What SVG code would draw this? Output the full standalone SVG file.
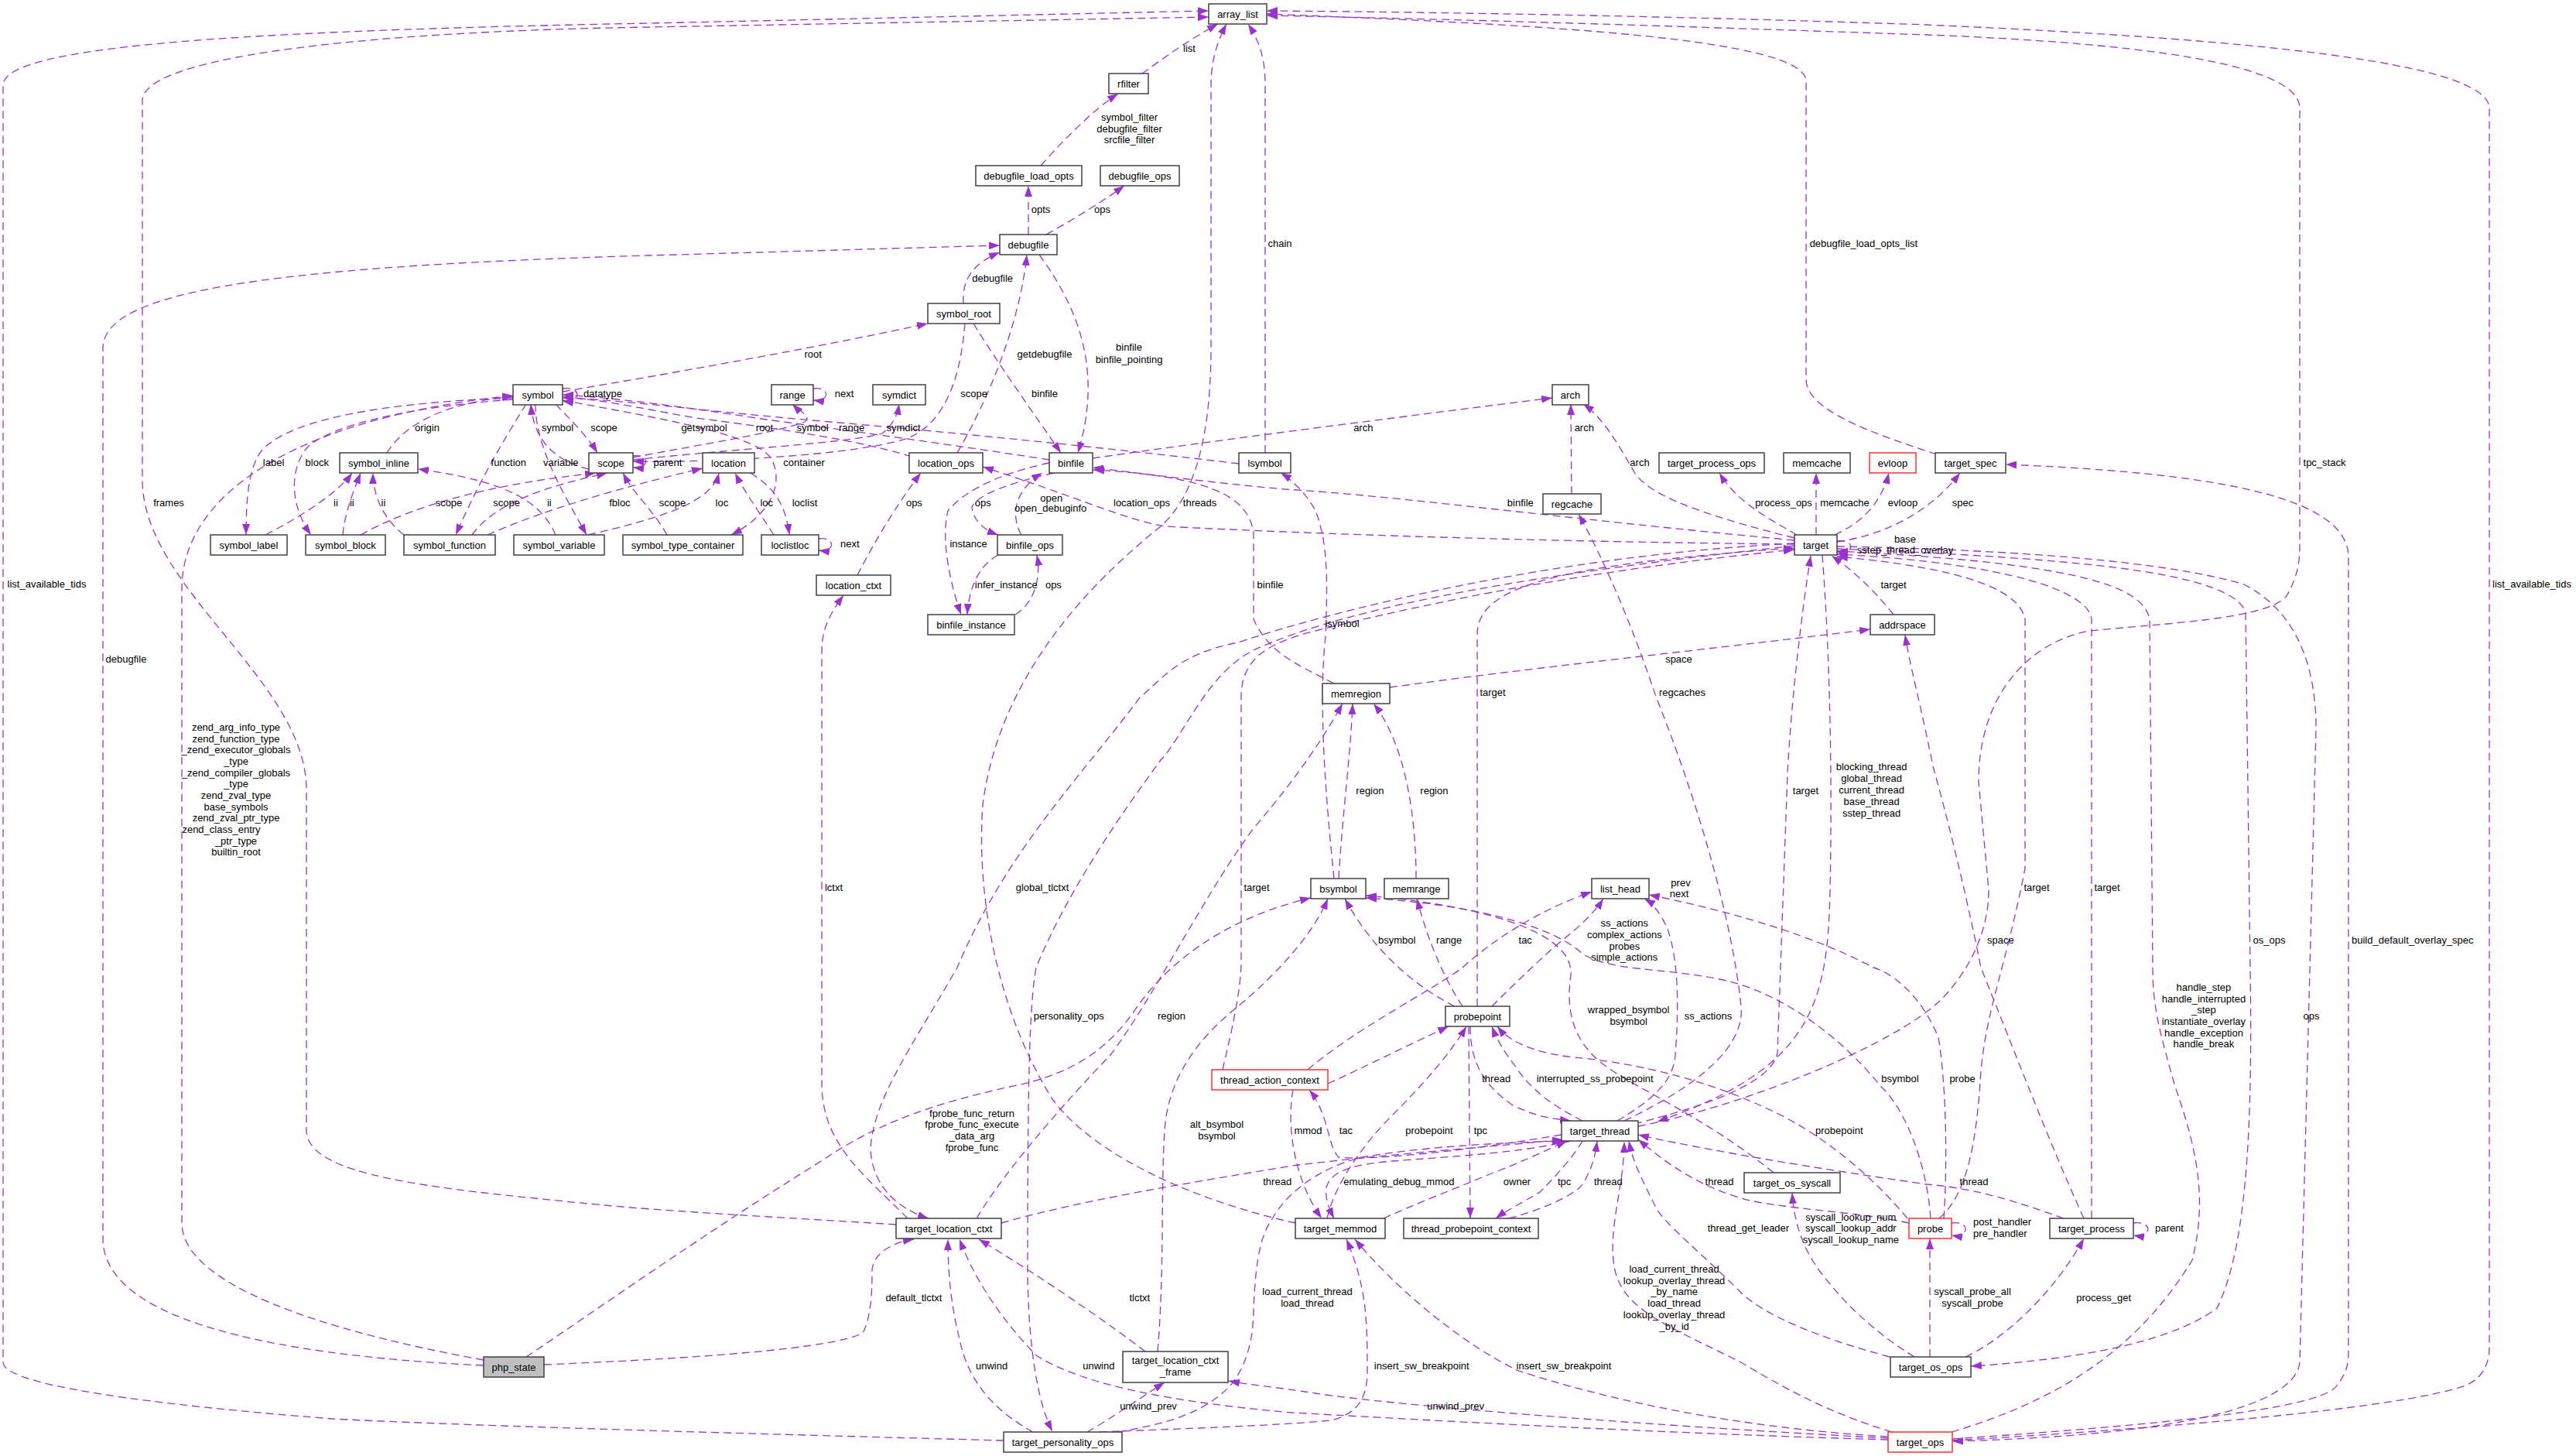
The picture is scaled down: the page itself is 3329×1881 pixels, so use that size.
<svg xmlns="http://www.w3.org/2000/svg" width="3329" height="1881" viewBox="0 0 3329 1881">
<defs>
<marker id="ah" viewBox="0 0 14 10" refX="14" refY="5" markerWidth="14" markerHeight="10" markerUnits="userSpaceOnUse" orient="auto"><path d="M0,0 L14,5 L0,10 z" fill="#9a32cd"/></marker>
</defs>
<style>
.e{fill:none;stroke:#9a32cd;stroke-width:1.3;stroke-dasharray:10 6;marker-end:url(#ah)}
.n rect{fill:#fff;stroke:#404040;stroke-width:1.5}
.r rect{stroke:#ff3030}
.g rect{fill:#bfbfbf}
text{font-family:"Liberation Sans",Arial,sans-serif;font-size:13px;fill:#000;text-anchor:middle}
</style>
<rect width="3329" height="1881" fill="#fff"/>
<g id="edges">
<path class="e" d="M1476,95 C1500,78 1530,55 1574,31"/>
<path class="e" d="M1345,214 C1375,180 1415,140 1445,121"/>
<path class="e" d="M1329,303 L1329,240"/>
<path class="e" d="M1352,303 C1390,282 1428,258 1453,240"/>
<path class="e" d="M1245,392 C1243,360 1258,340 1292,326"/>
<path class="e" d="M1237,585 C1275,520 1318,420 1327,329"/>
<path class="e" d="M1343,329 C1395,400 1425,480 1393,585"/>
<path class="e" d="M1258,418 C1290,470 1340,540 1371,585"/>
<path class="e" d="M1247,418 C1242,480 1225,545 1173,566 C1100,590 900,598 818,596"/>
<path class="e" d="M727,506 C880,480 1050,450 1199,418"/>
<path class="e" d="M727,502 C752,498 752,522 727,518"/>
<path class="e" d="M500,585 C525,545 580,520 663,512"/>
<path class="e" d="M625,1757 C420,1720 235,1660 235,1580 L235,760 C235,640 380,540 663,511"/>
<path class="e" d="M625,1764 C330,1750 133,1700 133,1600 L133,450 C133,380 320,345 840,330 L1292,317"/>
<path class="e" d="M1158,1582 C1000,1572 860,1565 760,1555 C560,1535 396,1520 396,1460 L396,1020 C396,880 184,760 184,620 L184,130 C184,70 500,40 840,35 L1562,22"/>
<path class="e" d="M1297,1861 C1000,1853 600,1842 430,1833 C200,1815 4,1790 4,1760 L4,110 C4,60 300,40 840,30 L1562,14"/>
<path class="e" d="M1674,1580 C1560,1555 1420,1500 1360,1420 C1285,1300 1262,1150 1270,1040 C1290,880 1400,760 1500,680 C1545,640 1565,560 1565,450 L1565,110 C1565,75 1575,50 1585,31"/>
<path class="e" d="M1635,585 L1635,110 C1635,70 1625,50 1613,31"/>
<path class="e" d="M2503,587 C2420,560 2334,530 2334,490 L2334,105 C2334,50 2000,32 1637,18"/>
<path class="e" d="M2117,1455 C2250,1430 2450,1350 2510,1290 C2548,1250 2570,1200 2570,1150 L2557,1010 C2557,900 2620,830 2700,815 C2800,805 2930,800 2955,770 C2972,740 2972,720 2972,700 L2972,140 C2972,80 2750,55 2490,45 C2200,35 1900,25 1637,20"/>
<path class="e" d="M2523,1861 C2800,1845 3100,1820 3186,1790 C3210,1780 3217,1760 3217,1740 L3217,140 C3217,80 2900,50 2490,32 C2200,22 1900,16 1637,14"/>
<path class="e" d="M2374,706 C2600,710 2800,725 2900,755 C2968,790 2993,860 2993,941 L2972,1760 C2965,1820 2800,1855 2523,1862"/>
<path class="e" d="M2523,1859 C2800,1840 3000,1820 3020,1790 C3035,1770 3035,1760 3035,1740 L3035,720 C3035,650 2900,612 2592,600"/>
<path class="e" d="M2522,1850 C2650,1812 2758,1751 2833,1628 C2850,1560 2845,1500 2811,1404 C2790,1330 2782,1300 2782,1250 L2778,800 C2770,760 2700,728 2374,712"/>
<path class="e" d="M2374,709 C2700,722 2880,740 2902,790 L2908,1250 C2910,1400 2910,1600 2865,1690 C2811,1730 2704,1755 2547,1765"/>
<path class="e" d="M2703,1574 L2703,800 C2700,765 2600,728 2374,716"/>
<path class="e" d="M2506,1574 C2540,1545 2554,1485 2560,1383 C2568,1300 2592,1250 2617,1122 L2617,800 C2610,765 2550,735 2374,719"/>
<path class="e" d="M2693,1574 C2650,1480 2600,1350 2560,1250 C2540,1150 2515,1050 2498,990 C2480,900 2468,860 2462,820"/>
<path class="e" d="M2447,794 C2420,760 2392,735 2367,718"/>
<path class="e" d="M1796,888 C2000,860 2200,840 2417,813"/>
<path class="e" d="M2374,700 C2440,690 2495,660 2533,611"/>
<path class="e" d="M2371,691 C2400,678 2430,655 2441,611"/>
<path class="e" d="M2347,691 L2347,611"/>
<path class="e" d="M2322,691 C2290,672 2245,650 2222,611"/>
<path class="e" d="M2319,695 C2200,665 2130,640 2112,610 C2092,575 2072,540 2046,522"/>
<path class="e" d="M2031,638 L2030,522"/>
<path class="e" d="M1412,592 C1600,565 1800,540 2006,514"/>
<path class="e" d="M2374,699 C2398,696 2398,716 2374,713"/>
<path class="e" d="M2112,1452 C2200,1430 2290,1400 2297,1360 L2310,1000 C2315,900 2330,780 2340,718"/>
<path class="e" d="M2355,717 C2365,850 2368,1000 2365,1150 C2362,1300 2340,1380 2142,1449"/>
<path class="e" d="M2099,1448 C2200,1400 2255,1350 2250,1300 C2240,1200 2200,1050 2140,900 C2100,780 2060,700 2040,664"/>
<path class="e" d="M2090,1448 C2130,1424 2163,1400 2165,1362 C2170,1300 2169,1240 2155,1200 C2147,1182 2137,1168 2125,1161"/>
<path class="e" d="M1928,1300 C1960,1268 1995,1235 2015,1218 C2040,1198 2060,1180 2072,1161"/>
<path class="e" d="M1690,1382 C1750,1330 1850,1280 1890,1250 C1940,1205 2000,1172 2057,1152"/>
<path class="e" d="M1480,1746 C1420,1700 1330,1640 1265,1601"/>
<path class="e" d="M703,1763 C900,1755 1080,1742 1115,1722 C1127,1700 1127,1660 1127,1640 C1130,1615 1160,1604 1181,1601"/>
<path class="e" d="M1335,1850 C1280,1820 1250,1780 1240,1730 C1230,1690 1225,1650 1225,1601"/>
<path class="e" d="M2440,1860 C2100,1850 1800,1832 1670,1825 C1520,1812 1400,1790 1339,1751 C1290,1700 1258,1649 1240,1601"/>
<path class="e" d="M1405,1850 C1440,1830 1478,1803 1505,1786"/>
<path class="e" d="M2440,1858 C2100,1840 1800,1815 1700,1800 C1650,1792 1620,1790 1588,1784"/>
<path class="e" d="M2319,705 C2000,740 1750,780 1620,840 C1560,870 1530,950 1500,982 C1450,1050 1380,1150 1339,1250 C1330,1300 1328,1400 1328,1650 C1330,1760 1345,1820 1360,1849"/>
<path class="e" d="M2319,702 C2000,718 1720,790 1600,830 C1520,845 1500,880 1473,901 C1400,1000 1300,1100 1237,1250 C1180,1350 1128,1420 1125,1485 C1128,1540 1170,1565 1200,1574"/>
<path class="e" d="M1580,1382 C1592,1330 1604,1280 1604,1240 L1604,900 C1604,850 1640,830 1700,815 C1900,765 2100,732 2319,710"/>
<path class="e" d="M1262,1574 C1300,1510 1380,1420 1435,1363 C1490,1290 1560,1150 1620,1070 C1680,1000 1712,950 1735,909"/>
<path class="e" d="M1730,1135 C1735,1050 1745,980 1748,909"/>
<path class="e" d="M1830,1135 C1830,1050 1815,960 1775,909"/>
<path class="e" d="M1724,1135 C1710,1000 1705,900 1713,821 C1716,750 1716,700 1700,660 C1690,640 1670,620 1655,611"/>
<path class="e" d="M1724,883 C1680,860 1640,845 1620,800 L1620,690 C1615,640 1560,615 1413,607"/>
<path class="e" d="M1890,1300 C1870,1270 1848,1225 1831,1161"/>
<path class="e" d="M1880,1300 C1820,1270 1770,1220 1738,1161"/>
<path class="e" d="M1496,1746 C1505,1640 1500,1540 1505,1460 C1510,1390 1550,1340 1600,1300 C1660,1250 1700,1200 1716,1161"/>
<path class="e" d="M2292,1515 C2200,1440 2100,1400 2067,1371 C2030,1340 2024,1300 2030,1260 C2035,1200 1900,1168 1765,1157"/>
<path class="e" d="M2495,1574 C2490,1500 2460,1430 2431,1404 C2380,1340 2300,1280 2222,1265 C2150,1250 2080,1255 2045,1232 C2005,1195 1900,1168 1765,1160"/>
<path class="e" d="M680,1753 C760,1700 900,1600 1066,1497 C1150,1440 1237,1420 1300,1405 C1380,1390 1430,1360 1470,1300 C1520,1230 1600,1182 1694,1160"/>
<path class="e" d="M1294,1580 C1400,1550 1526,1530 1670,1506 C1800,1490 1950,1480 2020,1472"/>
<path class="e" d="M1445,1850 C1500,1840 1553,1829 1590,1790 C1615,1760 1620,1720 1620,1690 C1622,1650 1625,1600 1644,1575 C1660,1545 1700,1510 1760,1495 C1850,1480 1950,1476 2020,1474"/>
<path class="e" d="M2445,1850 C2380,1830 2330,1808 2250,1760 C2150,1710 2090,1690 2085,1628 C2080,1580 2099,1530 2099,1475"/>
<path class="e" d="M1420,1850 C1550,1845 1660,1841 1720,1835 C1760,1825 1767,1800 1767,1770 C1767,1700 1765,1660 1740,1601"/>
<path class="e" d="M2440,1856 C2250,1845 2080,1810 1960,1770 C1880,1730 1800,1660 1751,1601"/>
<path class="e" d="M2442,1753 C2356,1730 2280,1700 2249,1669 C2200,1620 2150,1580 2140,1560 C2120,1520 2110,1500 2105,1474"/>
<path class="e" d="M2474,1753 C2420,1720 2380,1680 2350,1640 C2325,1605 2318,1570 2316,1541"/>
<path class="e" d="M2494,1753 L2494,1600"/>
<path class="e" d="M2540,1753 C2600,1725 2660,1660 2693,1600"/>
<path class="e" d="M2757,1580 C2782,1576 2782,1600 2757,1596"/>
<path class="e" d="M2522,1580 C2546,1576 2546,1600 2522,1596"/>
<path class="e" d="M2465,1574 C2420,1520 2360,1470 2300,1440 C2200,1390 2100,1372 2035,1366 C1980,1360 1950,1345 1935,1326"/>
<path class="e" d="M2045,1448 C2010,1430 1981,1411 1960,1380 C1945,1360 1935,1345 1928,1326"/>
<path class="e" d="M1900,1326 C1900,1370 1915,1400 1955,1428 C1980,1440 2000,1445 2030,1448"/>
<path class="e" d="M1898,1326 L1900,1574"/>
<path class="e" d="M1715,1574 C1725,1530 1760,1480 1800,1440 C1840,1400 1875,1360 1895,1326"/>
<path class="e" d="M1788,1574 C1830,1555 1874,1538 1930,1515 C1970,1500 2000,1485 2025,1474"/>
<path class="e" d="M2045,1474 C2030,1500 2000,1530 1990,1540 C1965,1555 1945,1565 1933,1574"/>
<path class="e" d="M1950,1574 C1985,1565 2035,1545 2045,1530 C2058,1510 2062,1490 2064,1474"/>
<path class="e" d="M2030,1474 C1960,1490 1874,1494 1800,1500 C1740,1505 1720,1515 1714,1534 C1712,1550 1718,1562 1724,1574"/>
<path class="e" d="M1671,1408 C1663,1450 1670,1520 1708,1574"/>
<path class="e" d="M2018,1466 C1900,1486 1770,1500 1730,1495 C1715,1480 1718,1440 1692,1408"/>
<path class="e" d="M1716,1400 C1760,1380 1820,1350 1872,1326"/>
<path class="e" d="M2512,1574 C2517,1500 2515,1400 2505,1340 C2480,1280 2440,1255 2421,1250 C2350,1212 2250,1180 2131,1156"/>
<path class="e" d="M2467,1580 C2400,1565 2300,1562 2250,1548 C2190,1530 2150,1500 2117,1472"/>
<path class="e" d="M2667,1574 C2600,1550 2550,1535 2490,1530 C2350,1510 2200,1485 2117,1466"/>
<path class="e" d="M1173,1574 C1120,1520 1062,1480 1062,1400 L1062,840 C1062,810 1075,790 1090,769"/>
<path class="e" d="M2319,703 C2000,700 1700,690 1505,680 C1450,670 1400,645 1270,603"/>
<path class="e" d="M2319,698 C2000,668 1800,640 1660,632 C1550,622 1480,612 1412,604"/>
<path class="e" d="M1356,598 C1300,610 1250,630 1225,660 C1215,700 1230,760 1242,794"/>
<path class="e" d="M1362,611 C1300,625 1262,640 1256,655 C1258,672 1270,684 1290,691"/>
<path class="e" d="M1320,691 C1305,665 1312,632 1347,611"/>
<path class="e" d="M1290,717 C1265,730 1252,760 1250,794"/>
<path class="e" d="M1312,794 C1335,780 1346,750 1340,717"/>
<path class="e" d="M1108,743 C1130,700 1160,650 1190,611"/>
<path class="e" d="M1909,1300 L1909,820 C1909,760 2000,730 2319,708"/>
<path class="e" d="M1178,590 C1100,565 960,548 900,540 C840,530 780,516 727,513"/>
<path class="e" d="M1356,594 C1200,570 1050,550 990,542 C900,528 800,514 727,510"/>
<path class="e" d="M1601,599 C1400,575 1200,556 1050,543 C900,530 800,516 727,514"/>
<path class="e" d="M818,591 C900,575 1000,560 1040,545 C1050,538 1032,530 1024,522"/>
<path class="e" d="M818,594 C950,580 1100,572 1140,560 C1155,548 1160,535 1162,522"/>
<path class="e" d="M818,589 C840,586 840,606 818,604"/>
<path class="e" d="M1051,502 C1073,499 1073,520 1051,517"/>
<path class="e" d="M1058,696 C1080,693 1080,714 1058,711"/>
<path class="e" d="M630,691 C700,660 800,630 908,605"/>
<path class="e" d="M760,691 C850,670 920,650 929,611"/>
<path class="e" d="M1000,691 C980,660 960,632 950,611"/>
<path class="e" d="M970,611 C1000,630 1015,650 1020,691"/>
<path class="e" d="M727,517 C850,540 970,560 995,590 C1012,615 1005,660 945,691"/>
<path class="e" d="M862,691 C845,660 820,640 805,611"/>
<path class="e" d="M466,691 C540,650 640,625 770,611"/>
<path class="e" d="M610,691 C640,650 700,630 785,611"/>
<path class="e" d="M343,691 C400,662 440,632 455,611"/>
<path class="e" d="M443,691 C446,660 458,632 466,611"/>
<path class="e" d="M522,691 C495,670 482,640 482,611"/>
<path class="e" d="M718,691 C700,650 660,622 540,606"/>
<path class="e" d="M680,522 C650,570 620,620 589,691"/>
<path class="e" d="M692,522 C692,580 730,640 758,691"/>
<path class="e" d="M761,606 C720,596 690,572 686,522"/>
<path class="e" d="M718,522 C740,545 760,565 772,585"/>
<path class="e" d="M663,514 C500,520 380,540 340,580 C322,600 318,640 318,691"/>
<path class="e" d="M663,516 C540,525 440,545 400,575 C375,600 372,650 402,691"/>
</g>
<g id="edge-labels">
<text x="779" y="512.5">datatype</text>
<text x="552" y="557">origin</text>
<text x="720.5" y="557">symbol</text>
<text x="780.5" y="557">scope</text>
<text x="353.6" y="602">label</text>
<text x="409.8" y="602">block</text>
<text x="657.3" y="602">function</text>
<text x="724.8" y="602">variable</text>
<text x="1050.7" y="461.5">root</text>
<text x="910" y="557">getsymbol</text>
<text x="988" y="557">root</text>
<text x="1050" y="557">symbol</text>
<text x="1100.5" y="557">range</text>
<text x="1167.5" y="557">symdict</text>
<text x="863" y="602">parent</text>
<text x="1039" y="602">container</text>
<text x="1091" y="512.5">next</text>
<text x="1258.6" y="512.5">scope</text>
<text x="1350" y="512.5">binfile</text>
<text x="1350" y="461.5">getdebugfile</text>
<text x="1459" y="452.5">binfile</text>
<text x="1459" y="468.5">binfile_pointing</text>
<text x="1282.7" y="364">debugfile</text>
<text x="1345" y="275">opts</text>
<text x="1424.6" y="275">ops</text>
<text x="1459.5" y="156">symbol_filter</text>
<text x="1459.5" y="171">debugfile_filter</text>
<text x="1459.5" y="185">srcfile_filter</text>
<text x="1537" y="67">list</text>
<text x="1654" y="319">chain</text>
<text x="218" y="654">frames</text>
<text x="434" y="654">ii</text>
<text x="454.8" y="654">ii</text>
<text x="495.5" y="654">ii</text>
<text x="709.8" y="654">ii</text>
<text x="580" y="654">scope</text>
<text x="654.6" y="654">scope</text>
<text x="869" y="654">scope</text>
<text x="800.9" y="654">fbloc</text>
<text x="932.9" y="654">loc</text>
<text x="990.7" y="654">loc</text>
<text x="1040" y="654">loclist</text>
<text x="1098.4" y="707">next</text>
<text x="1181.4" y="654">ops</text>
<text x="1270.3" y="654">ops</text>
<text x="1358.7" y="647.5">open</text>
<text x="1357.7" y="661">open_debuginfo</text>
<text x="1475.5" y="654">location_ops</text>
<text x="1550.5" y="654">threads</text>
<text x="1251.6" y="707">instance</text>
<text x="1300.3" y="759.5">infer_instance</text>
<text x="1361.4" y="759.5">ops</text>
<text x="1641.6" y="759.5">binfile</text>
<text x="1077.5" y="1151">lctxt</text>
<text x="1347" y="1151">global_tlctxt</text>
<text x="1624" y="1151">target</text>
<text x="1761.8" y="557">arch</text>
<text x="2047.3" y="557">arch</text>
<text x="2119" y="602">arch</text>
<text x="2408.4" y="319">debugfile_load_opts_list</text>
<text x="3004" y="602">tpc_stack</text>
<text x="1964.8" y="654">binfile</text>
<text x="2305" y="654">process_ops</text>
<text x="2384" y="654">memcache</text>
<text x="2459" y="654">evloop</text>
<text x="2462" y="700.5">base</text>
<text x="2462" y="715">sstep_thread_overlay</text>
<text x="2447" y="759.5">target</text>
<text x="1734.5" y="810">lsymbol</text>
<text x="2169.5" y="855.5">space</text>
<text x="1929" y="899">target</text>
<text x="2174" y="899">regcaches</text>
<text x="1770.4" y="1025.5">region</text>
<text x="1853.4" y="1025.5">region</text>
<text x="2333.4" y="1025.5">target</text>
<text x="2418.6" y="995">blocking_thread</text>
<text x="2418.6" y="1010">global_thread</text>
<text x="2418.6" y="1025">current_thread</text>
<text x="2418.6" y="1040">base_thread</text>
<text x="2418.6" y="1055">sstep_thread</text>
<text x="2172" y="1144.5">prev</text>
<text x="2170" y="1159">next</text>
<text x="2099.3" y="1197">ss_actions</text>
<text x="2099.3" y="1212">complex_actions</text>
<text x="2099.3" y="1227">probes</text>
<text x="2099.3" y="1241">simple_actions</text>
<text x="1805.2" y="1219">bsymbol</text>
<text x="1872.7" y="1219">range</text>
<text x="1971.2" y="1219">tac</text>
<text x="2536.6" y="654">spec</text>
<text x="3272" y="759">list_available_tids</text>
<text x="60.5" y="759">list_available_tids</text>
<text x="163" y="855.5">debugfile</text>
<text x="305" y="944">zend_arg_info_type</text>
<text x="305" y="959">zend_function_type</text>
<text x="305" y="973">_zend_executor_globals</text>
<text x="305" y="988">_type</text>
<text x="305" y="1003">_zend_compiler_globals</text>
<text x="305" y="1017">_type</text>
<text x="305" y="1032">zend_zval_type</text>
<text x="305" y="1047">base_symbols</text>
<text x="305" y="1061">zend_zval_ptr_type</text>
<text x="286" y="1076">zend_class_entry</text>
<text x="305" y="1091">_ptr_type</text>
<text x="305" y="1105">builtin_root</text>
<text x="2632" y="1151">target</text>
<text x="2723" y="1151">target</text>
<text x="2585.4" y="1219">space</text>
<text x="2932.5" y="1219">os_ops</text>
<text x="3117.8" y="1219">build_default_overlay_spec</text>
<text x="1381.2" y="1317">personality_ops</text>
<text x="1514" y="1317">region</text>
<text x="1256" y="1443">fprobe_func_return</text>
<text x="1256" y="1457">fprobe_func_execute</text>
<text x="1256" y="1472">_data_arg</text>
<text x="1256" y="1487">fprobe_func</text>
<text x="1572.5" y="1457">alt_bsymbol</text>
<text x="1572.5" y="1472">bsymbol</text>
<text x="1650.7" y="1530.5">thread</text>
<text x="1180.9" y="1681">default_tlctxt</text>
<text x="1472.8" y="1681">tlctxt</text>
<text x="1281.6" y="1769">unwind</text>
<text x="1419.8" y="1769">unwind</text>
<text x="1484" y="1821">unwind_prev</text>
<text x="1881.2" y="1821">unwind_prev</text>
<text x="1689.5" y="1673">load_current_thread</text>
<text x="1689.5" y="1688">load_thread</text>
<text x="2104.6" y="1309">wrapped_bsymbol</text>
<text x="2104.6" y="1324">bsymbol</text>
<text x="2207.5" y="1317">ss_actions</text>
<text x="1933.7" y="1398">thread</text>
<text x="2061.2" y="1398">interrupted_ss_probepoint</text>
<text x="2455.5" y="1398">bsymbol</text>
<text x="1690.5" y="1465">mmod</text>
<text x="1739.3" y="1465">tac</text>
<text x="1847" y="1465">probepoint</text>
<text x="1913.4" y="1465">tpc</text>
<text x="2376.8" y="1465">probepoint</text>
<text x="1807.9" y="1531">emulating_debug_mmod</text>
<text x="1960.5" y="1531">owner</text>
<text x="2021.6" y="1531">tpc</text>
<text x="2078.4" y="1531">thread</text>
<text x="2222" y="1531">thread</text>
<text x="2259.4" y="1591">thread_get_leader</text>
<text x="2391.8" y="1576.5">syscall_lookup_num</text>
<text x="2391.8" y="1591">syscall_lookup_addr</text>
<text x="2391.8" y="1605.5">syscall_lookup_name</text>
<text x="2163.6" y="1644">load_current_thread</text>
<text x="2163.6" y="1659">lookup_overlay_thread</text>
<text x="2163.6" y="1673">_by_name</text>
<text x="2163.6" y="1688">load_thread</text>
<text x="2163.6" y="1703">lookup_overlay_thread</text>
<text x="2163.6" y="1717.5">_by_id</text>
<text x="1837.3" y="1769">insert_sw_breakpoint</text>
<text x="2021" y="1769">insert_sw_breakpoint</text>
<text x="2847.9" y="1280">handle_step</text>
<text x="2847.9" y="1295">handle_interrupted</text>
<text x="2847.9" y="1309">_step</text>
<text x="2847.9" y="1324">instantiate_overlay</text>
<text x="2847.9" y="1339">handle_exception</text>
<text x="2847.9" y="1353">handle_break</text>
<text x="2987" y="1317">ops</text>
<text x="2536" y="1398">probe</text>
<text x="2551" y="1530.5">thread</text>
<text x="2587.5" y="1583">post_handler</text>
<text x="2584.8" y="1598">pre_handler</text>
<text x="2803.4" y="1591">parent</text>
<text x="2549" y="1673">syscall_probe_all</text>
<text x="2549" y="1688">syscall_probe</text>
<text x="2718.7" y="1681">process_get</text>
</g>
<g id="node-array_list" class="n"><rect x="1562" y="5" width="75" height="26"/><text x="1599.5" y="22.5">array_list</text></g>
<g id="node-rfilter" class="n"><rect x="1433" y="95" width="51" height="26"/><text x="1458.5" y="112.5">rfilter</text></g>
<g id="node-debugfile_load_opts" class="n"><rect x="1261" y="214" width="137" height="26"/><text x="1329.5" y="231.5">debugfile_load_opts</text></g>
<g id="node-debugfile_ops" class="n"><rect x="1422" y="214" width="102" height="26"/><text x="1473" y="231.5">debugfile_ops</text></g>
<g id="node-debugfile" class="n"><rect x="1292" y="303" width="74" height="26"/><text x="1329" y="320.5">debugfile</text></g>
<g id="node-symbol_root" class="n"><rect x="1199" y="392" width="93" height="26"/><text x="1245.5" y="409.5">symbol_root</text></g>
<g id="node-symbol" class="n"><rect x="663" y="497" width="64" height="26"/><text x="695" y="514.5">symbol</text></g>
<g id="node-range" class="n"><rect x="997" y="497" width="54" height="26"/><text x="1024" y="514.5">range</text></g>
<g id="node-symdict" class="n"><rect x="1128" y="497" width="68" height="26"/><text x="1162" y="514.5">symdict</text></g>
<g id="node-arch" class="n"><rect x="2006" y="497" width="47" height="26"/><text x="2029.5" y="514.5">arch</text></g>
<g id="node-symbol_inline" class="n"><rect x="439" y="585" width="101" height="26"/><text x="489.5" y="602.5">symbol_inline</text></g>
<g id="node-scope" class="n"><rect x="761" y="585" width="57" height="26"/><text x="789.5" y="602.5">scope</text></g>
<g id="node-location" class="n"><rect x="908" y="585" width="67" height="26"/><text x="941.5" y="602.5">location</text></g>
<g id="node-location_ops" class="n"><rect x="1175" y="585" width="95" height="26"/><text x="1222.5" y="602.5">location_ops</text></g>
<g id="node-binfile" class="n"><rect x="1356" y="585" width="56" height="26"/><text x="1384" y="602.5">binfile</text></g>
<g id="node-lsymbol" class="n"><rect x="1601" y="585" width="67" height="26"/><text x="1634.5" y="602.5">lsymbol</text></g>
<g id="node-target_process_ops" class="n"><rect x="2144" y="585" width="136" height="26"/><text x="2212" y="602.5">target_process_ops</text></g>
<g id="node-memcache" class="n"><rect x="2305" y="585" width="86" height="26"/><text x="2348" y="602.5">memcache</text></g>
<g id="node-evloop" class="n r"><rect x="2416" y="585" width="60" height="26"/><text x="2446" y="602.5">evloop</text></g>
<g id="node-target_spec" class="n"><rect x="2501" y="585" width="91" height="26"/><text x="2546.5" y="602.5">target_spec</text></g>
<g id="node-regcache" class="n"><rect x="1994" y="638" width="75" height="26"/><text x="2031.5" y="655.5">regcache</text></g>
<g id="node-symbol_label" class="n"><rect x="272" y="691" width="99" height="26"/><text x="321.5" y="708.5">symbol_label</text></g>
<g id="node-symbol_block" class="n"><rect x="395" y="691" width="103" height="26"/><text x="446.5" y="708.5">symbol_block</text></g>
<g id="node-symbol_function" class="n"><rect x="522" y="691" width="118" height="26"/><text x="581" y="708.5">symbol_function</text></g>
<g id="node-symbol_variable" class="n"><rect x="664" y="691" width="117" height="26"/><text x="722.5" y="708.5">symbol_variable</text></g>
<g id="node-symbol_type_container" class="n"><rect x="805" y="691" width="155" height="26"/><text x="882.5" y="708.5">symbol_type_container</text></g>
<g id="node-loclistloc" class="n"><rect x="984" y="691" width="74" height="26"/><text x="1021" y="708.5">loclistloc</text></g>
<g id="node-binfile_ops" class="n"><rect x="1289" y="691" width="84" height="26"/><text x="1331" y="708.5">binfile_ops</text></g>
<g id="node-target" class="n"><rect x="2319" y="691" width="55" height="26"/><text x="2346.5" y="708.5">target</text></g>
<g id="node-location_ctxt" class="n"><rect x="1055" y="743" width="96" height="26"/><text x="1103" y="760.5">location_ctxt</text></g>
<g id="node-binfile_instance" class="n"><rect x="1199" y="794" width="112" height="26"/><text x="1255" y="811.5">binfile_instance</text></g>
<g id="node-addrspace" class="n"><rect x="2417" y="794" width="83" height="26"/><text x="2458.5" y="811.5">addrspace</text></g>
<g id="node-memregion" class="n"><rect x="1709" y="883" width="87" height="26"/><text x="1752.5" y="900.5">memregion</text></g>
<g id="node-bsymbol" class="n"><rect x="1694" y="1135" width="71" height="26"/><text x="1729.5" y="1152.5">bsymbol</text></g>
<g id="node-memrange" class="n"><rect x="1789" y="1135" width="83" height="26"/><text x="1830.5" y="1152.5">memrange</text></g>
<g id="node-list_head" class="n"><rect x="2057" y="1135" width="74" height="26"/><text x="2094" y="1152.5">list_head</text></g>
<g id="node-probepoint" class="n"><rect x="1868" y="1300" width="83" height="26"/><text x="1909.5" y="1317.5">probepoint</text></g>
<g id="node-thread_action_context" class="n r"><rect x="1566" y="1382" width="150" height="26"/><text x="1641" y="1399.5">thread_action_context</text></g>
<g id="node-target_thread" class="n"><rect x="2018" y="1448" width="99" height="26"/><text x="2067.5" y="1465.5">target_thread</text></g>
<g id="node-target_os_syscall" class="n"><rect x="2254" y="1515" width="124" height="26"/><text x="2316" y="1532.5">target_os_syscall</text></g>
<g id="node-target_location_ctxt" class="n"><rect x="1158" y="1574" width="136" height="26"/><text x="1226" y="1591.5">target_location_ctxt</text></g>
<g id="node-target_memmod" class="n"><rect x="1674" y="1574" width="116" height="26"/><text x="1732" y="1591.5">target_memmod</text></g>
<g id="node-thread_probepoint_context" class="n"><rect x="1814" y="1574" width="174" height="26"/><text x="1901" y="1591.5">thread_probepoint_context</text></g>
<g id="node-probe" class="n r"><rect x="2467" y="1574" width="55" height="26"/><text x="2494.5" y="1591.5">probe</text></g>
<g id="node-target_process" class="n"><rect x="2649" y="1574" width="108" height="26"/><text x="2703" y="1591.5">target_process</text></g>
<g id="node-php_state" class="n g"><rect x="625" y="1753" width="78" height="26"/><text x="664" y="1770.5">php_state</text></g>
<g id="node-target_location_ctxt_frame" class="n"><rect x="1451" y="1746" width="136" height="40"/><text x="1519" y="1762">target_location_ctxt</text><text x="1519" y="1777">_frame</text></g>
<g id="node-target_os_ops" class="n"><rect x="2443" y="1753" width="104" height="26"/><text x="2495" y="1770.5">target_os_ops</text></g>
<g id="node-target_personality_ops" class="n"><rect x="1297" y="1850" width="153" height="26"/><text x="1373.5" y="1867.5">target_personality_ops</text></g>
<g id="node-target_ops" class="n r"><rect x="2440" y="1850" width="83" height="26"/><text x="2481.5" y="1867.5">target_ops</text></g>
</svg>
